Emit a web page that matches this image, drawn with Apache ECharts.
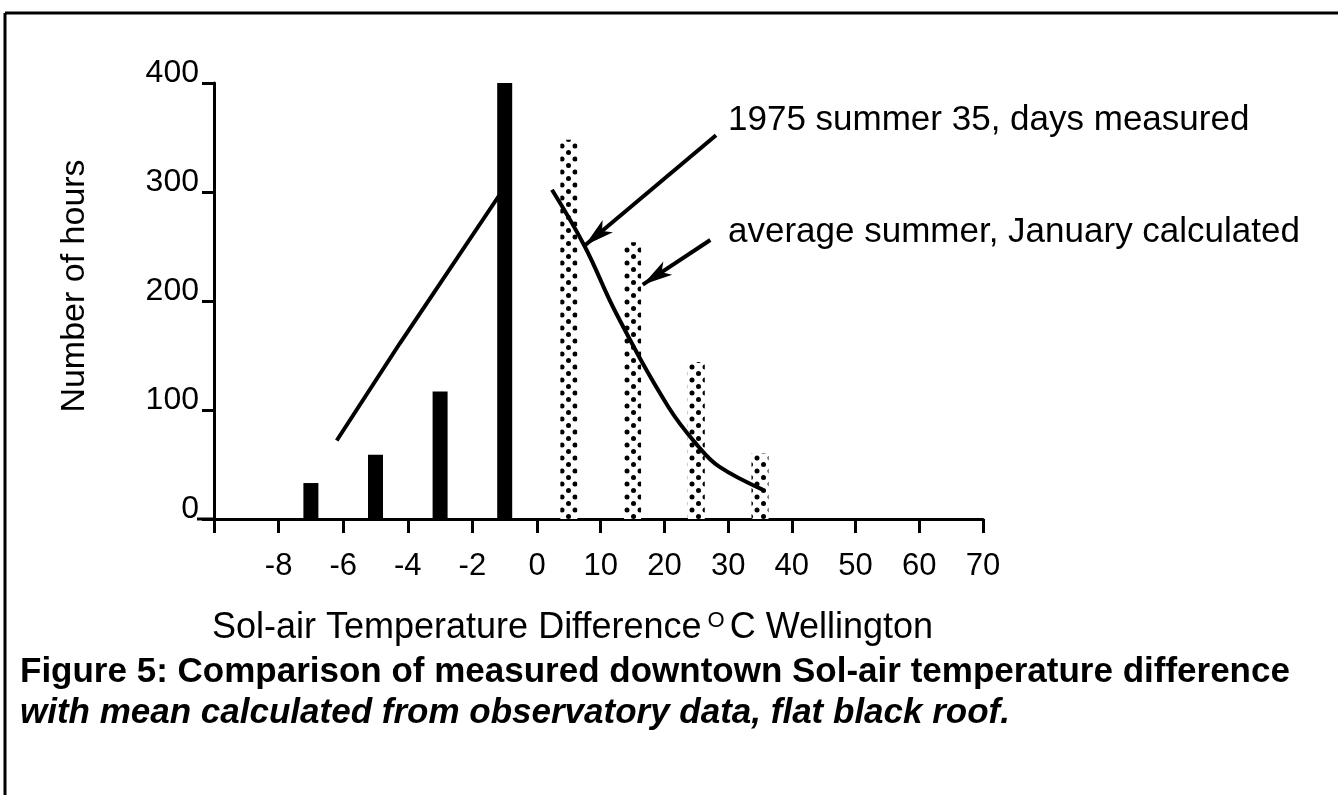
<!DOCTYPE html>
<html>
<head>
<meta charset="utf-8">
<title>Figure 5</title>
<script src="https://cdn.jsdelivr.net/npm/echarts@6/dist/echarts.min.js"></script>
<style>
  html, body { margin: 0; padding: 0; background: #fff; }
  #chart { width: 1338px; height: 795px; }
</style>
</head>
<body>
<div id="chart"></div>
<script>
// black bars, below zero (bin centres in deg C)
var negBins = [-7, -5, -3, -1];
var negHours = [33, 59, 117, 400];
// dotted bars, above zero
var posBins = [5, 15, 25, 35];
var posHours = [348, 254, 144, 60];
// straight line over the black bars
var leftLineX = [-6.2, -4.25, -1.1];
var leftLineY = [72, 161, 300];
// curve over the dotted bars
var curveX = [2.35, 7.5, 12.4, 20.6, 25.4, 28.6, 35.4];
var curveY = [302, 250, 189, 103, 66, 48, 27];

var FONT = "'Liberation Sans', Arial, sans-serif";

function pairs(xs, ys) {
  return xs.map(function (x, i) { return [x, ys[i]]; });
}

// dotted fill like the screened bars of the scan
function dotPattern() {
  var c = document.createElement("canvas");
  c.width = 13;
  c.height = 13;
  var g = c.getContext("2d");
  g.fillStyle = "#fff";
  g.fillRect(0, 0, 13, 13);
  g.fillStyle = "#000";
  [[3, 3], [9.5, 9.5], [-3.5, 9.5], [3, 16], [16, 3]].forEach(function (p) {
    g.beginPath();
    g.arc(p[0], p[1], 2.5, 0, Math.PI * 2);
    g.fill();
  });
  return c;
}

var axisLine = { show: true, onZero: false, lineStyle: { color: "#000", width: 3 } };
var axisTick = { show: true, length: 14, lineStyle: { color: "#000", width: 3 } };
var tickLabel = { color: "#000", fontSize: 31, fontFamily: FONT, margin: 32 };

var chart = echarts.init(document.getElementById("chart"));
chart.setOption({
  animation: false,
  backgroundColor: "#fff",
  grid: [
    { left: 214, top: 83, width: 323, height: 436 },
    { left: 537, top: 83, width: 446, height: 436 }
  ],
  xAxis: [
    {
      type: "value", gridIndex: 0, min: -10, max: 0, interval: 2,
      axisLine: axisLine, axisTick: axisTick, splitLine: { show: false },
      axisLabel: Object.assign({}, tickLabel, {
        formatter: function (v) { return v === -10 ? "" : String(v); }
      })
    },
    {
      type: "value", gridIndex: 1, min: 0, max: 70, interval: 10,
      axisLine: axisLine, axisTick: axisTick, splitLine: { show: false },
      axisLabel: Object.assign({}, tickLabel, {
        formatter: function (v) { return v === 0 ? "" : String(v); }
      })
    }
  ],
  yAxis: [
    {
      type: "value", gridIndex: 0, min: 0, max: 400, interval: 100,
      name: "Number of hours", nameLocation: "middle", nameRotate: 90, nameGap: 122,
      nameTextStyle: { color: "#000", fontSize: 34, fontFamily: FONT, padding: [0, 0, 0, 30] },
      axisLine: axisLine,
      axisTick: { show: true, length: 12, lineStyle: { color: "#000", width: 3 } },
      splitLine: { show: false },
      axisLabel: { color: "#000", fontSize: 32, fontFamily: FONT, margin: 15, verticalAlign: "bottom", lineHeight: 20 }
    },
    { type: "value", gridIndex: 1, min: 0, max: 400, show: false }
  ],
  series: [
    {
      type: "bar", xAxisIndex: 0, yAxisIndex: 0, barWidth: 15,
      itemStyle: { color: "#000" },
      data: pairs(negBins, negHours)
    },
    {
      type: "line", xAxisIndex: 0, yAxisIndex: 0, symbol: "none",
      lineStyle: { color: "#000", width: 4 },
      data: pairs(leftLineX, leftLineY)
    },
    {
      type: "bar", xAxisIndex: 1, yAxisIndex: 1, barWidth: 17,
      itemStyle: { color: { image: dotPattern(), repeat: "repeat" } },
      data: pairs(posBins, posHours)
    },
    {
      type: "line", xAxisIndex: 1, yAxisIndex: 1, symbol: "none", smooth: 0.4,
      lineStyle: { color: "#000", width: 4 },
      data: pairs(curveX, curveY),
      // leader arrows from the two notes
      markLine: {
        silent: true,
        symbol: ["none", "arrow"],
        symbolSize: [12, 30],
        label: { show: false },
        lineStyle: { color: "#000", width: 4, type: "solid" },
        data: [
          [{ coord: [28.1, 352] }, { coord: [7.5, 251] }],
          [{ coord: [27.2, 256] }, { coord: [16.6, 215] }]
        ]
      }
    }
  ],
  graphic: [
    // scan frame
    { type: "line", shape: { x1: 5, y1: 13, x2: 1338, y2: 13 }, style: { stroke: "#000", lineWidth: 3 } },
    { type: "line", shape: { x1: 5, y1: 13, x2: 5, y2: 795 }, style: { stroke: "#000", lineWidth: 3 } },
    // x axis runs a little past the y axis
    { type: "line", shape: { x1: 197, y1: 519, x2: 214, y2: 519 }, style: { stroke: "#000", lineWidth: 3 } },
    {
      type: "text", x: 728, y: 120,
      style: { text: "1975 summer 35, days measured", fontSize: 35, fontFamily: FONT, fill: "#000", verticalAlign: "middle" }
    },
    {
      type: "text", x: 728, y: 232,
      style: { text: "average summer, January calculated", fontSize: 35, fontFamily: FONT, fill: "#000", verticalAlign: "middle" }
    },
    {
      type: "text", x: 212, y: 610,
      style: {
        text: "Sol-air Temperature Difference{sup|O}C Wellington",
        fontSize: 36, fontFamily: FONT, fill: "#000",
        rich: { sup: { fontSize: 22, fontFamily: FONT, fill: "#000", verticalAlign: "top", padding: [0, 5, 0, 6] } }
      }
    },
    {
      type: "text", x: 20, y: 672,
      style: {
        text: "Figure 5: Comparison of measured downtown Sol-air temperature difference",
        fontSize: 35, fontWeight: "bold", fontFamily: FONT, fill: "#000", verticalAlign: "middle"
      }
    },
    {
      type: "text", x: 20, y: 713,
      style: {
        text: "with mean calculated from observatory data, flat black roof.",
        fontSize: 35, fontWeight: "bold", fontStyle: "italic", fontFamily: FONT, fill: "#000", verticalAlign: "middle"
      }
    }
  ]
});
</script>
</body>
</html>
